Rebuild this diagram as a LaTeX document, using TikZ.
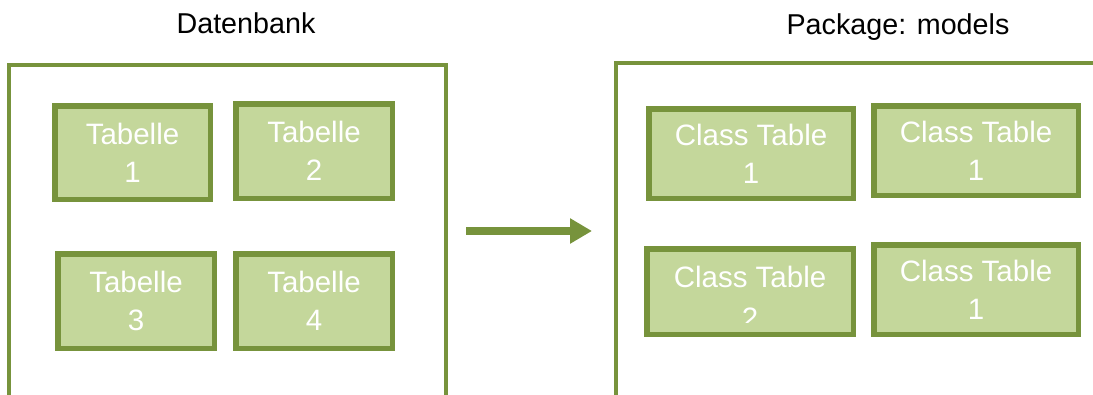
\documentclass[tikz,border=0pt]{standalone}
\usepackage{fontspec}
\setmainfont{Liberation Sans}
\usetikzlibrary{arrows.meta}
\definecolor{olivedark}{HTML}{77933C}
\definecolor{olivelight}{HTML}{C4D79B}
\tikzset{
  outerbox/.style={draw=olivedark, line width=4.3pt},
  tablebox/.style={draw=olivedark, fill=olivelight, line width=5.5pt, inner sep=0pt,
    text=white, align=center, font=\fontsize{29.5}{38}\selectfont},
  title/.style={font=\fontsize{28.7}{34}\selectfont, text=black, anchor=base, inner sep=0pt},
  bigarrow/.style={draw=olivedark, line width=8pt, -{Triangle[length=22pt,width=24pt]}}
}
\begin{document}
\begin{tikzpicture}[x=1pt,y=-1pt]
\useasboundingbox (0,0) rectangle (1093,394);
\clip (0,0) rectangle (1093,394);
% titles
\node[title] (t1) at (246,33) {Datenbank};
\node[title] (t2) at (898,34) {Package: models};
% outer frames
\draw[outerbox] (9,420) -- (9,65) -- (446,65) -- (446,420);
\draw[outerbox] (616,420) -- (616,63) -- (1120,63);
% Tabelle boxes
\node[tablebox, minimum width=155.5pt, minimum height=93.5pt] (tab1) at (132.5,152.5) {Tabelle\\1};
\node[tablebox, minimum width=156.5pt, minimum height=94.5pt] (tab2) at (314,151) {Tabelle\\2};
\node[tablebox, minimum width=156.5pt, minimum height=94.5pt] (tab3) at (136,301) {Tabelle\\3};
\node[tablebox, minimum width=156.5pt, minimum height=94.5pt] (tab4) at (314,301) {Tabelle\\4};
% Class boxes
\node[tablebox, minimum width=204.5pt, minimum height=89.5pt] (ct1) at (751,153.5) {Class Table\\1};
\node[tablebox, minimum width=204.5pt, minimum height=89.5pt] (ct1b) at (976,150.5) {Class Table\\1};
\node[tablebox, minimum width=206.5pt, minimum height=85.5pt] (ct2) at (750,291.5) {};
\begin{scope}
  \clip (650,250) rectangle (850,322);
  \node[tablebox, draw=none, fill=none, font=\fontsize{29.5}{41}\selectfont, anchor=base] (ct2text) at (750,328) {Class Table\\2};
\end{scope}
\node[tablebox, minimum width=204.5pt, minimum height=89.5pt] (ct1d) at (976,289.5) {Class Table\\1};
% arrow
\coordinate (arrS) at (466,231);
\coordinate (arrE) at (592,231);
\draw[bigarrow] (arrS) -- (arrE);
\end{tikzpicture}
\end{document}
